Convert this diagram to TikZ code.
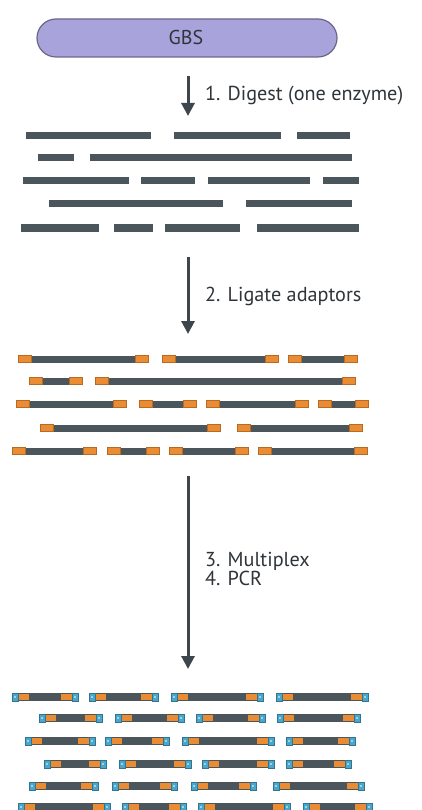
\documentclass[tikz,border=0pt]{standalone}
\usepackage{fontspec}
\setmainfont{PT Sans}
\usetikzlibrary{arrows.meta}
\definecolor{segc}{HTML}{4A555C}
\definecolor{orc}{HTML}{EA8C33}
\definecolor{orl}{HTML}{B86A22}
\definecolor{blc}{HTML}{4BA6CC}
\definecolor{bll}{HTML}{9BD3E8}
\definecolor{pillf}{HTML}{A9A3DC}
\definecolor{pilld}{HTML}{6A6688}
\definecolor{txtc}{HTML}{2F3439}
\definecolor{arrc}{HTML}{3D464C}
\newcommand\gseg[3]{\fill[segc] (#2,#1-3.5) rectangle (#3,#1+3.5);}
\newcommand\aseg[3]{%
  \fill[segc] (#2,#1-3.5) rectangle (#3,#1+3.5);
  \filldraw[fill=orc,draw=orl,line width=0.8pt] (#2,#1-3.5) rectangle (#2+13,#1+3.5);
  \filldraw[fill=orc,draw=orl,line width=0.8pt] (#3-13,#1-3.5) rectangle (#3,#1+3.5);}
\newcommand\mseg[3]{%
  \fill[segc] (#2,#1-4) rectangle (#3,#1+4);
  \fill[orc] (#2+6,#1-3) rectangle (#2+17,#1+3);
  \fill[orc] (#3-17,#1-3) rectangle (#3-6,#1+3);
  \filldraw[fill=blc,draw=blc!70!black,line width=0.6pt] (#2,#1-4) rectangle (#2+6,#1+4);
  \filldraw[fill=blc,draw=blc!70!black,line width=0.6pt] (#3-6,#1-4) rectangle (#3,#1+4);
  \fill[bll] (#2+1.8,#1-1.3) rectangle (#2+4.2,#1+1.3);
  \fill[bll] (#3-4.2,#1-1.3) rectangle (#3-1.8,#1+1.3);}
\tikzset{
  steparrow/.style={arrc,line width=3pt,-{Triangle[width=13pt,length=13pt]}},
  steplabel/.style={anchor=base west,inner sep=0pt,text=txtc,font=\fontsize{20.2}{19}\selectfont,align=left}
}
\begin{document}
\begin{tikzpicture}[x=1pt,y=-1pt]
\useasboundingbox (0,0) rectangle (422,810);
% GBS pill
\node[draw=pilld,fill=pillf,line width=1.2pt,rounded corners=19pt,minimum width=300pt,minimum height=38pt,inner sep=0pt] (gbs) at (187,38) {};
\node[text=txtc,font=\fontsize{20}{20}\selectfont,inner sep=0pt] (gbst) at (186,38) {GBS};
% step 1
\coordinate (a1s) at (188,76);
\coordinate (a1e) at (188,116);
\draw[steparrow] (a1s) -- (a1e);
\node[steplabel] (t1) at (205,101) {1. Digest (one enzyme)};
% digested fragments
\foreach \y/\a/\b in {136/26/151,136/174/281,136/297/350,
  158/38/74,158/90/352,
  181/23/129,181/141/195,181/208/310,181/323/359,
  204/49/223,204/246/352,
  228/21/99,228/114/153,228/165/240,228/257/359}{\gseg{\y}{\a}{\b}}
% step 2
\coordinate (a2s) at (188,257);
\coordinate (a2e) at (188,334);
\draw[steparrow] (a2s) -- (a2e);
\node[steplabel] (t2) at (205,301) {2. Ligate adaptors};
% ligated fragments
\foreach \y/\a/\b in {359/18/148,359/162/278,359/288/357,
  381/29/82,381/95/355,
  404/16/126,404/139/196,404/206/308,404/318/368,
  428/40/220,428/237/362,
  451/12/96,451/107/159,451/169/248,451/258/367}{\aseg{\y}{\a}{\b}}
% step 3/4
\coordinate (a3s) at (188,476);
\coordinate (a3e) at (188,669);
\draw[steparrow] (a3s) -- (a3e);
\node[steplabel] (t3) at (205,566) {3. Multiplex};
\node[steplabel] (t4) at (205,585) {4. PCR};
% PCR products
\foreach \y/\a/\b in {697/12/78,697/89/158,697/171/263,697/276/368,
  718/39/102,718/115/184,718/196/265,718/277/360,
  741/25/95,741/105/169,741/182/274,741/286/355,
  764/44/106,764/119/191,764/202/274,764/286/351,
  786/29/98,786/112/177,786/191/256,786/273/364,
  807/18/110,807/122/186,807/198/290,807/303/372}{\mseg{\y}{\a}{\b}}
\end{tikzpicture}
\end{document}
